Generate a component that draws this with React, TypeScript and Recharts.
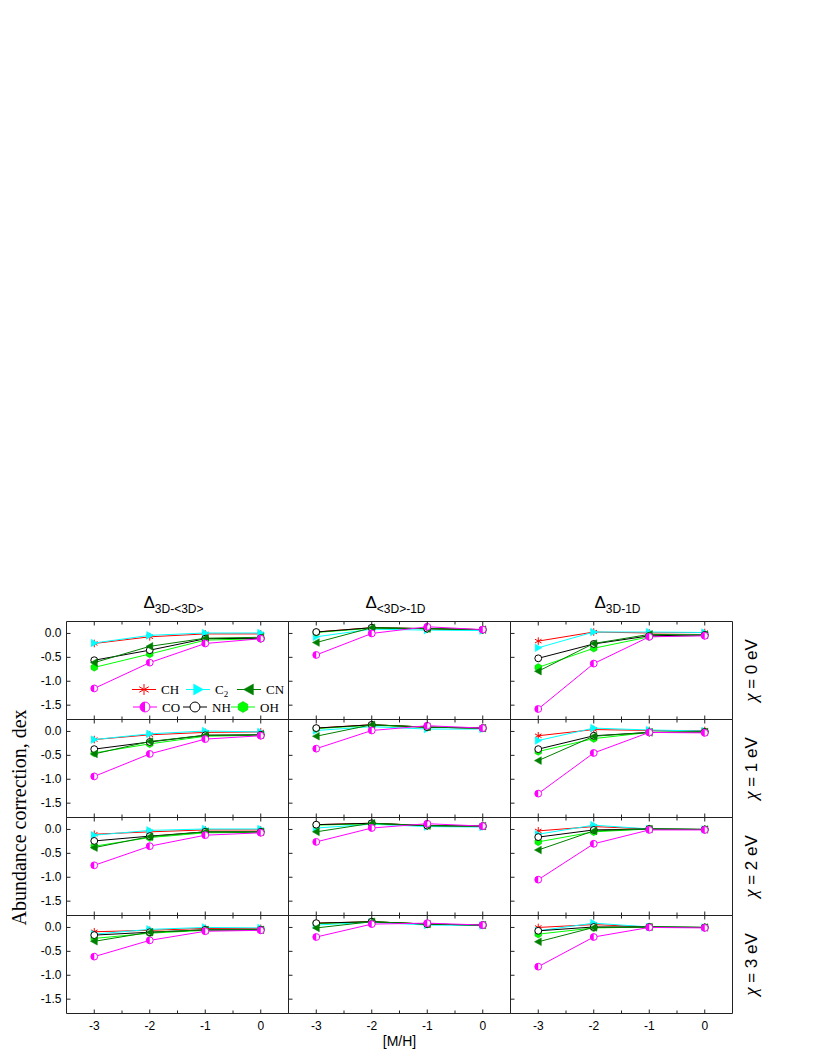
import React from "react";
import { LineChart, Line, XAxis, YAxis } from "recharts";

// [M/H] grid and ticks
const metallicity = [-3, -2, -1, 0];
const xTicks = [-3, -2.5, -2, -1.5, -1, -0.5, 0];
const yTicks = [0, -0.5, -1, -1.5];
const colTitles = ["3D-<3D>", "<3D>-1D", "3D-1D"];
const rowLabels = [" = 0 eV", " = 1 eV", " = 2 eV", " = 3 eV"];

// panels row by row (χ = 0..3 eV), columns: 3D-<3D>, <3D>-1D, 3D-1D
const CH = [
  [-0.21, -0.07, -0.01, -0.01], [0.03, 0.12, 0.1, 0.08], [-0.16, 0.03, 0.01, 0.02],
  [-0.17, -0.07, -0.02, -0.01], [0.07, 0.14, 0.09, 0.07], [-0.09, 0.04, 0.02, 0.02],
  [-0.1, -0.05, -0.01, -0.01], [0.1, 0.13, 0.08, 0.07], [-0.03, 0.06, 0.01, 0.0],
  [-0.09, -0.06, -0.02, -0.02], [0.09, 0.12, 0.07, 0.05], [0.0, 0.06, 0.01, 0.0],
];
const C2 = [
  [-0.2, -0.04, 0.01, 0.01], [-0.07, 0.09, 0.07, 0.06], [-0.3, 0.03, 0.03, 0.02],
  [-0.17, -0.05, 0.01, -0.01], [0.02, 0.1, 0.05, 0.05], [-0.19, 0.07, 0.03, 0.01],
  [-0.12, -0.02, 0.01, 0.01], [0.03, 0.11, 0.06, 0.05], [-0.1, 0.09, 0.01, 0.0],
  [-0.14, -0.04, 0.0, -0.01], [0.05, 0.11, 0.05, 0.04], [-0.07, 0.09, 0.01, 0.0],
];
const CN = [
  [-0.61, -0.27, -0.1, -0.08], [-0.19, 0.12, 0.1, 0.08], [-0.79, -0.21, -0.02, -0.03],
  [-0.47, -0.21, -0.08, -0.07], [-0.1, 0.14, 0.09, 0.07], [-0.61, -0.1, -0.02, -0.01],
  [-0.38, -0.15, -0.05, -0.05], [-0.05, 0.13, 0.08, 0.07], [-0.43, -0.03, 0.01, 0.0],
  [-0.29, -0.1, -0.05, -0.05], [-0.01, 0.12, 0.07, 0.05], [-0.3, 0.0, 0.01, 0.0],
];
const CO = [
  [-1.15, -0.61, -0.21, -0.11], [-0.45, 0.0, 0.14, 0.08], [-1.58, -0.63, -0.07, -0.05],
  [-0.94, -0.47, -0.16, -0.09], [-0.36, 0.02, 0.12, 0.07], [-1.3, -0.45, -0.02, -0.03],
  [-0.75, -0.35, -0.12, -0.07], [-0.26, 0.03, 0.12, 0.07], [-1.05, -0.3, -0.01, -0.01],
  [-0.61, -0.27, -0.08, -0.06], [-0.2, 0.07, 0.09, 0.05], [-0.82, -0.2, 0.0, -0.01],
];
const NH = [
  [-0.56, -0.35, -0.11, -0.1], [0.03, 0.12, 0.1, 0.08], [-0.52, -0.22, -0.05, -0.03],
  [-0.37, -0.22, -0.08, -0.07], [0.07, 0.14, 0.09, 0.07], [-0.37, -0.09, -0.02, -0.01],
  [-0.24, -0.14, -0.05, -0.05], [0.1, 0.13, 0.08, 0.07], [-0.16, -0.01, 0.01, 0.0],
  [-0.16, -0.1, -0.05, -0.05], [0.09, 0.12, 0.07, 0.05], [-0.07, 0.01, 0.01, 0.0],
];
const OH = [
  [-0.71, -0.43, -0.14, -0.11], [0.02, 0.11, 0.1, 0.08], [-0.71, -0.31, -0.07, -0.04],
  [-0.45, -0.26, -0.1, -0.08], [0.06, 0.13, 0.09, 0.07], [-0.42, -0.15, -0.02, -0.01],
  [-0.35, -0.17, -0.07, -0.06], [0.09, 0.12, 0.08, 0.07], [-0.26, -0.05, 0.01, 0.0],
  [-0.23, -0.12, -0.06, -0.05], [0.08, 0.12, 0.07, 0.05], [-0.14, -0.01, 0.01, 0.0],
];

const COLORS: Record<string, string> = {
  CH: "#ff0000", C2: "#00ffff", CN: "#008000", CO: "#ff00ff", NH: "#000000", OH: "#00ff00",
};
const DRAW_ORDER = ["CH", "C2", "OH", "NH", "CN", "CO"];

const AX = "#222";
const SANS = "'Liberation Sans', Arial, sans-serif";
const SERIF = "'Liberation Serif', 'Times New Roman', serif";

const PLOT_LEFT = 66.5;
const PLOT_TOP = 621.5;
const COL_W = 222;
const ROW_H = 98;
const M = 40.5;

function Marker({ kind, cx, cy, s }: { kind: string; cx: number; cy: number; s: number }) {
  const c = COLORS[kind];
  if (kind === "CH") {
    const spokes = [90, 30, 150].map((a) => {
      const r = (a * Math.PI) / 180;
      const dx = Math.cos(r) * s;
      const dy = Math.sin(r) * s;
      return <line key={a} x1={cx - dx} y1={cy - dy} x2={cx + dx} y2={cy + dy} stroke={c} strokeWidth={1} />;
    });
    return <g>{spokes}</g>;
  }
  if (kind === "C2") {
    return <polygon points={`${cx + s},${cy} ${cx - s * 0.8},${cy - s} ${cx - s * 0.8},${cy + s}`} fill={c} stroke={c} strokeWidth={0.5} />;
  }
  if (kind === "CN") {
    return <polygon points={`${cx - s},${cy} ${cx + s * 0.8},${cy - s} ${cx + s * 0.8},${cy + s}`} fill={c} stroke={c} strokeWidth={0.5} />;
  }
  if (kind === "CO") {
    return (
      <g>
        <circle cx={cx} cy={cy} r={s * 0.9} fill="#fff" stroke={c} strokeWidth={1} />
        <path d={`M ${cx} ${cy - s * 0.9} A ${s * 0.9} ${s * 0.9} 0 0 0 ${cx} ${cy + s * 0.9} Z`} fill={c} />
      </g>
    );
  }
  if (kind === "NH") {
    return <circle cx={cx} cy={cy} r={s * 0.9} fill="#fff" stroke={c} strokeWidth={1} />;
  }
  const pts = [0, 1, 2, 3, 4, 5]
    .map((k) => {
      const r = ((90 + 60 * k) * Math.PI) / 180;
      return `${cx + Math.cos(r) * s},${cy + Math.sin(r) * s}`;
    })
    .join(" ");
  return <polygon points={pts} fill={c} stroke="#00c000" strokeWidth={0.5} />;
}

function xTick(side: "top" | "bottom", showLabel: boolean) {
  return (p: any) => {
    const { x, y, payload } = p;
    const v = payload.value as number;
    const major = Number.isInteger(v);
    const len = major ? 4 : 3;
    const dir = side === "bottom" ? -1 : 1;
    return (
      <g key={`${side}-${v}`}>
        <line x1={x} x2={x} y1={y} y2={y + dir * len} stroke={AX} />
        {showLabel && major && (
          <text x={x} y={y + 16} textAnchor="middle" fontSize={12} fontFamily={SANS} fill="#000">
            {v}
          </text>
        )}
      </g>
    );
  };
}

function yTick(side: "left" | "right", showLabel: boolean) {
  return (p: any) => {
    const { x, y, payload } = p;
    const v = payload.value as number;
    const dir = side === "left" ? 1 : -1;
    return (
      <g key={`${side}-${v}`}>
        <line x1={x} x2={x + dir * 4} y1={y} y2={y} stroke={AX} />
        {showLabel && (
          <text x={x - 5} y={y + 4} textAnchor="end" fontSize={12} fontFamily={SANS} fill="#000">
            {v.toFixed(1)}
          </text>
        )}
      </g>
    );
  };
}

function Panel({ row, col }: { row: number; col: number }) {
  const idx = row * 3 + col;
  const data = metallicity.map((mh, i) => ({
    mh,
    CH: CH[idx][i],
    C2: C2[idx][i],
    CN: CN[idx][i],
    CO: CO[idx][i],
    NH: NH[idx][i],
    OH: OH[idx][i],
  }));
  // axes need a non-zero box to render; margins shrink by that 1px
  const common = {
    dataKey: "mh",
    type: "number" as const,
    domain: [-3.5, 0.5],
    ticks: xTicks,
    interval: 0 as const,
    height: 1,
    tickSize: 0,
    tickMargin: 0,
    tickLine: false,
    axisLine: { stroke: AX },
  };
  const ycommon = {
    type: "number" as const,
    domain: [-1.8, 0.25],
    ticks: yTicks,
    interval: 0 as const,
    width: 1,
    tickSize: 0,
    tickMargin: 0,
    tickLine: false,
    axisLine: { stroke: AX },
  };
  return (
    <div style={{ position: "absolute", left: PLOT_LEFT - M + col * COL_W, top: PLOT_TOP - M + row * ROW_H }}>
      <LineChart
        width={COL_W + 2 * M}
        height={ROW_H + 2 * M}
        data={data}
        margin={{ top: M - 1, right: M - 1, bottom: M - 1, left: M - 1 }}
      >
        <XAxis xAxisId="b" {...common} tick={xTick("bottom", row === 3)} />
        <XAxis xAxisId="t" orientation="top" {...common} tick={xTick("top", false)} />
        <YAxis yAxisId="l" {...ycommon} tick={yTick("left", col === 0)} />
        <YAxis yAxisId="r" orientation="right" {...ycommon} tick={yTick("right", false)} />
        {DRAW_ORDER.map((s) => (
          <Line
            key={s}
            xAxisId="b"
            yAxisId="l"
            type="linear"
            dataKey={s}
            stroke={COLORS[s]}
            strokeWidth={1}
            isAnimationActive={false}
            activeDot={false}
            dot={(p: any) => <Marker key={`${s}-${p.index}`} kind={s} cx={p.cx} cy={p.cy} s={3.8} />}
          />
        ))}
      </LineChart>
    </div>
  );
}

function LegendItem({ kind, x, y, label }: { kind: string; x: number; y: number; label: React.ReactNode }) {
  return (
    <g>
      <line x1={x} x2={x + 24} y1={y} y2={y} stroke={COLORS[kind]} strokeWidth={1} />
      <Marker kind={kind} cx={x + 12} cy={y} s={5.5} />
      <text x={x + 29} y={y + 4.5} fontSize={13} fontFamily={SERIF} fill="#000">
        {label}
      </text>
    </g>
  );
}

export default function App() {
  const panels = [];
  for (let r = 0; r < 4; r++) for (let c = 0; c < 3; c++) panels.push(<Panel key={`${r}-${c}`} row={r} col={c} />);
  const plotBottom = PLOT_TOP + 4 * ROW_H;
  return (
    <div style={{ position: "absolute", left: 0, top: 0, width: 817, height: 1058, background: "#fff" }}>
      {panels}
      <svg width={817} height={1058} style={{ position: "absolute", left: 0, top: 0, pointerEvents: "none" }}>
        {colTitles.map((t, c) => (
          <text
            key={t}
            x={PLOT_LEFT + c * COL_W + COL_W / 2 - 4}
            y={608}
            textAnchor="middle"
            fontSize={17}
            fontFamily={SANS}
            fill="#000"
          >
            Δ
            <tspan fontSize={12} dy={5}>
              {t}
            </tspan>
          </text>
        ))}
        {rowLabels.map((t, r) => (
          <text
            key={t}
            transform={`translate(757, ${PLOT_TOP + r * ROW_H + ROW_H / 2}) rotate(-90)`}
            textAnchor="middle"
            fontSize={17}
            fontFamily={SANS}
            fill="#000"
          >
            <tspan fontFamily={SERIF} fontStyle="italic" fontSize={19}>
              χ
            </tspan>
            {t}
          </text>
        ))}
        <text
          transform={`translate(26, ${(PLOT_TOP + plotBottom) / 2}) rotate(-90)`}
          textAnchor="middle"
          fontSize={20}
          fontFamily={SERIF}
          fill="#000"
        >
          Abundance correction, dex
        </text>
        <text x={PLOT_LEFT + 1.5 * COL_W} y={plotBottom + 32} textAnchor="middle" fontSize={14} fontFamily={SANS} fill="#000">
          [M/H]
        </text>
        <LegendItem kind="CH" x={132} y={689.5} label="CH" />
        <LegendItem
          kind="C2"
          x={186}
          y={689.5}
          label={
            <>
              C<tspan fontSize={9} dy={3}>2</tspan>
            </>
          }
        />
        <LegendItem kind="CN" x={237} y={689.5} label="CN" />
        <LegendItem kind="CO" x={133} y={707} label="CO" />
        <LegendItem kind="NH" x={183} y={707} label="NH" />
        <LegendItem kind="OH" x={231} y={707} label="OH" />
      </svg>
    </div>
  );
}
